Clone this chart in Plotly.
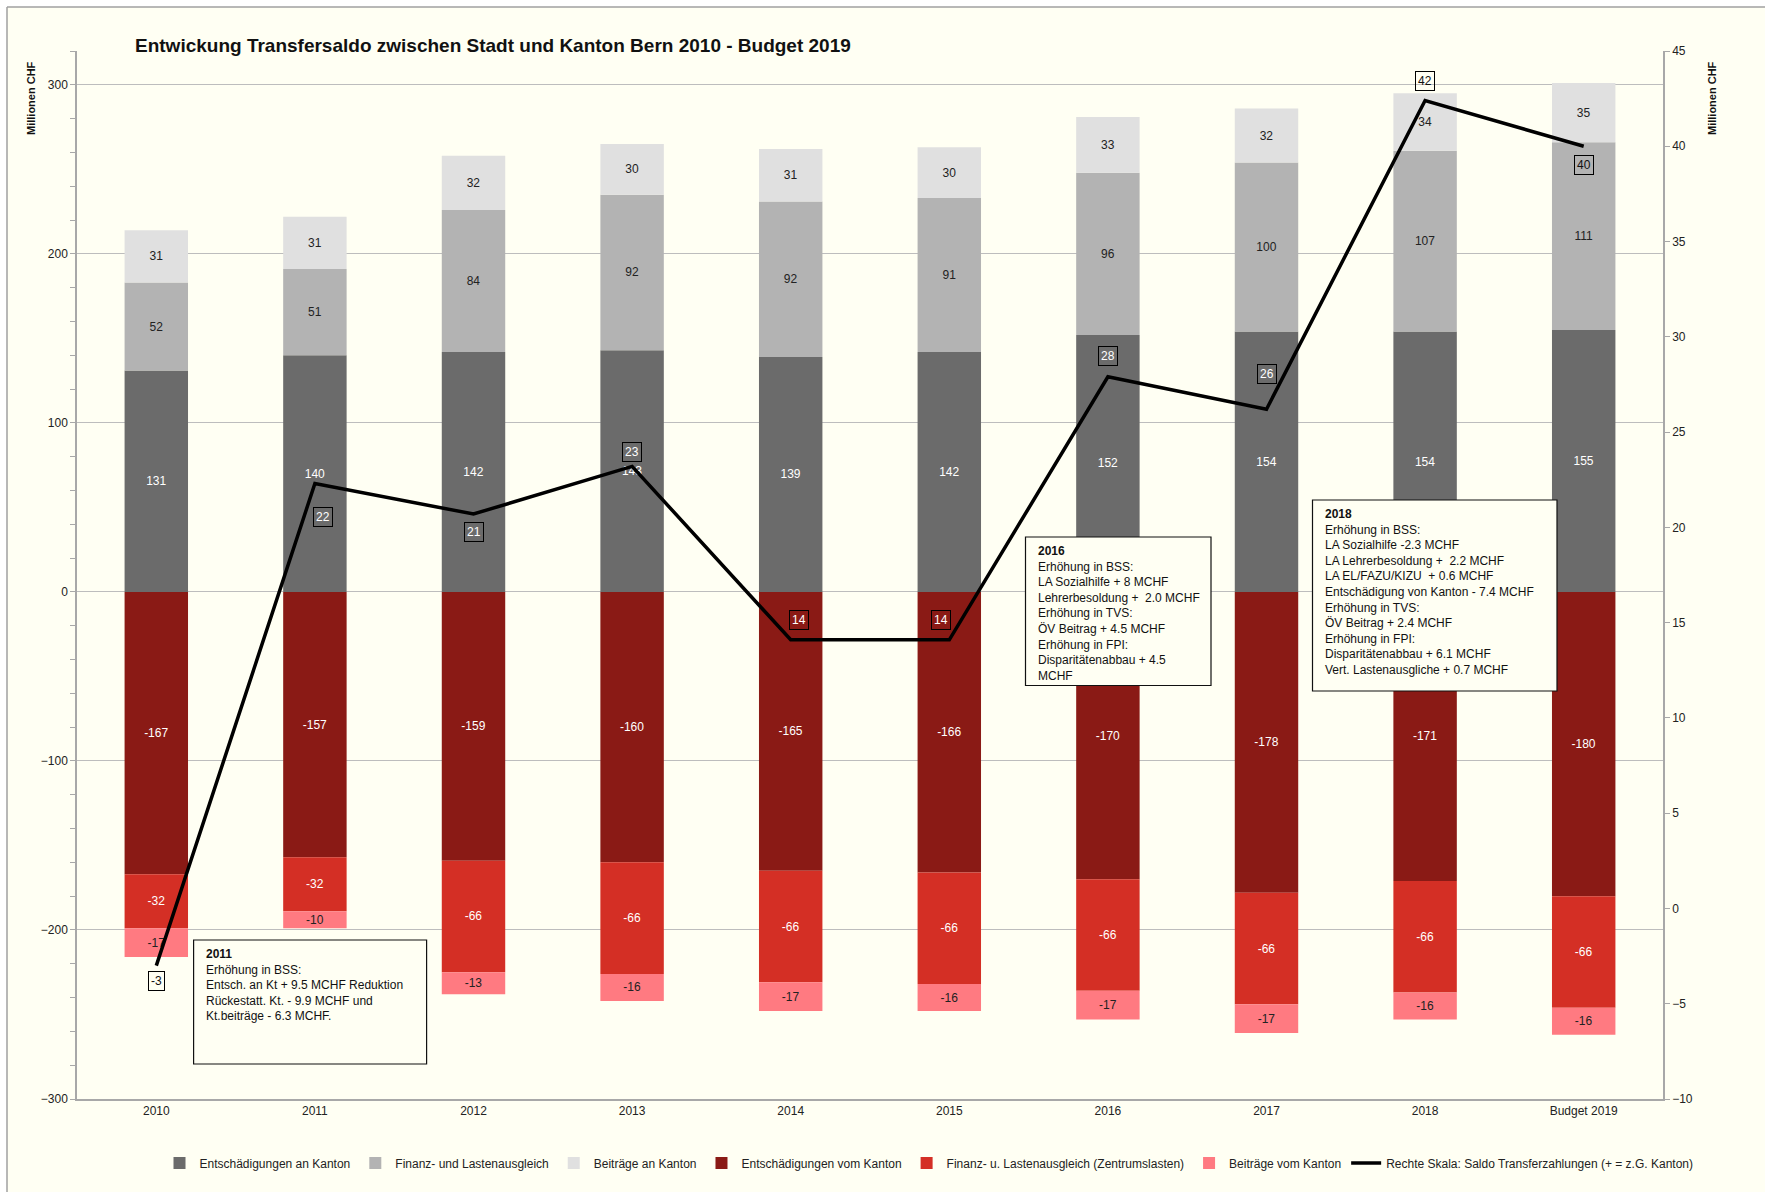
import plotly.graph_objects as go

years = ["2010", "2011", "2012", "2013", "2014", "2015", "2016", "2017", "2018", "Budget 2019"]

ent_an_kanton = [131, 140, 142, 143, 139, 142, 152, 154, 154, 155]
fla_an = [52, 51, 84, 92, 92, 91, 96, 100, 107, 111]
beitr_an = [31, 31, 32, 30, 31, 30, 33, 32, 34, 35]
ent_vom_kanton = [-167, -157, -159, -160, -165, -166, -170, -178, -171, -180]
fla_vom = [-32, -32, -66, -66, -66, -66, -66, -66, -66, -66]
beitr_vom = [-17, -10, -13, -16, -17, -16, -17, -17, -16, -16]
saldo = [-3.0, 22.3, 20.7, 23.2, 14.1, 14.1, 27.9, 26.2, 42.4, 40.0]

series_names = [
    "Entschädigungen an Kanton",
    "Finanz- und Lastenausgleich",
    "Beiträge an Kanton",
    "Entschädigungen vom Kanton",
    "Finanz- u. Lastenausgleich (Zentrumslasten)",
    "Beiträge vom Kanton",
]
line_name = "Rechte Skala: Saldo Transferzahlungen (+ = z.G. Kanton)"
title_text = "Entwickung Transfersaldo zwischen Stadt und Kanton Bern 2010 - Budget 2019"
axis_title = "Millionen CHF"

note_2011 = ("<b>2011</b><br>Erhöhung in BSS:<br>Entsch. an Kt + 9.5 MCHF Reduktion<br>"
             "Rückestatt. Kt. - 9.9 MCHF und<br>Kt.beiträge - 6.3 MCHF.")
note_2016 = ("<b>2016</b><br>Erhöhung in BSS:<br>LA Sozialhilfe + 8 MCHF<br>Lehrerbesoldung +  2.0 MCHF<br>"
             "Erhöhung in TVS:<br>ÖV Beitrag + 4.5 MCHF<br>Erhöhung in FPI:<br>Disparitätenabbau + 4.5<br>MCHF")
note_2018 = ("<b>2018</b><br>Erhöhung in BSS:<br>LA Sozialhilfe -2.3 MCHF<br>LA Lehrerbesoldung +  2.2 MCHF<br>"
             "LA EL/FAZU/KIZU  + 0.6 MCHF<br>Entschädigung von Kanton - 7.4 MCHF<br>Erhöhung in TVS:<br>"
             "ÖV Beitrag + 2.4 MCHF<br>Erhöhung in FPI:<br>Disparitätenabbau + 6.1 MCHF<br>Vert. Lastenausgliche + 0.7 MCHF")

# ---- styles ----
W, H = 1765, 1192
L, R, T, B = 77, 1663, 51, 1099
FONT = "Liberation Sans, Arial, sans-serif"
CREAM = "#FFFFF3"
bar_colors = ["#6b6b6b", "#b3b3b3", "#e0e0e0", "#8a1a15", "#d42f25", "#ff7a81"]
text_colors = ["white", "#222222", "#222222", "white", "white", "#222222"]
label_shift_y = [-15, -33, -18, 14, 20, 20, 21, 35, 20, -19]
label_shift_x = [0, 8, 0, 0, 8, -8, 0, 0, 0, 0]
label_font_color = ["#111", "white", "white", "white", "white", "white", "white", "white", "#111", "#111"]


def px(x):
    return (x - L) / (R - L)


def py(y):
    return (B - y) / (B - T)


fig = go.Figure()
for name, vals, col, tcol in zip(series_names,
                                 [ent_an_kanton, fla_an, beitr_an, ent_vom_kanton, fla_vom, beitr_vom],
                                 bar_colors, text_colors):
    fig.add_trace(go.Bar(
        x=years, y=vals, name=name,
        marker=dict(color=col, line=dict(width=0)),
        text=[str(v) for v in vals], textposition="inside", insidetextanchor="middle",
        textangle=0, textfont=dict(color=tcol, size=12, family=FONT),
    ))

fig.add_trace(go.Scatter(
    x=years, y=saldo, name=line_name, mode="lines",
    line=dict(color="black", width=3.5), yaxis="y2",
))

annotations = []
for i, v in enumerate(saldo):
    annotations.append(dict(
        x=i, y=v, xref="x", yref="y2", text=str(int(round(v))), showarrow=False,
        xshift=label_shift_x[i], yshift=label_shift_y[i],
        font=dict(size=12, color=label_font_color[i], family=FONT),
        bordercolor="black", borderwidth=1, borderpad=2,
    ))

shapes = [
    dict(type="rect", xref="paper", yref="paper", x0=px(0), x1=px(W), y0=py(0), y1=py(7),
         fillcolor="white", line=dict(width=0)),
    dict(type="rect", xref="paper", yref="paper", x0=px(0), x1=px(7), y0=py(0), y1=py(H),
         fillcolor="white", line=dict(width=0)),
    dict(type="line", xref="paper", yref="paper", x0=px(7), x1=px(W), y0=py(7), y1=py(7),
         line=dict(color="#a0a0a0", width=1.5)),
    dict(type="line", xref="paper", yref="paper", x0=px(7), x1=px(7), y0=py(7), y1=py(H),
         line=dict(color="#a0a0a0", width=1.5)),
]

for note, (x0, y0, x1, y1) in [
    (note_2011, (193.6, 940, 426.6, 1064)),
    (note_2016, (1025.5, 537, 1211, 685.5)),
    (note_2018, (1312.5, 500, 1557, 691)),
]:
    shapes.append(dict(type="rect", xref="paper", yref="paper", layer="above",
                       x0=px(x0), x1=px(x1), y0=py(y0), y1=py(y1),
                       fillcolor=CREAM, line=dict(color="#111", width=1.2)))
    annotations.append(dict(
        x=px(x0 + 10), y=py(y0 + 5), xref="paper", yref="paper", xanchor="left", yanchor="top",
        text=note, showarrow=False, align="left",
        font=dict(size=12, color="#111", family=FONT),
    ))

annotations.append(dict(
    x=px(133), y=py(46), xref="paper", yref="paper", xanchor="left", yanchor="middle",
    text="<b>" + title_text + "</b>", showarrow=False,
    font=dict(size=19, color="#111", family=FONT),
))
for xx in (31, 1712):
    annotations.append(dict(
        x=px(xx), y=py(98), xref="paper", yref="paper", xanchor="center", yanchor="middle",
        text="<b>" + axis_title + "</b>", textangle=-90, showarrow=False,
        font=dict(size=11, color="#111", family=FONT),
    ))

fig.update_layout(
    width=W, height=H,
    margin=dict(l=L, r=W - R, t=T, b=H - B),
    paper_bgcolor=CREAM, plot_bgcolor=CREAM,
    font=dict(family=FONT, size=12, color="#222"),
    barmode="relative", bargap=0.6,
    uniformtext=dict(minsize=12, mode="show"),
    xaxis=dict(type="category", range=[-0.5, 9.5], showgrid=False, showline=True,
               linecolor="#a8a8a8", linewidth=1.5,
               ticks="", tickfont=dict(size=12, color="#222"), zeroline=False),
    yaxis=dict(range=[-300, 320], tickvals=[-300, -200, -100, 0, 100, 200, 300],
               showgrid=True, gridcolor="#bdbdbd", gridwidth=1.3,
               zeroline=True, zerolinecolor="#bdbdbd", zerolinewidth=1.3,
               showline=True, linecolor="#a8a8a8", linewidth=1.5,
               ticks="outside", ticklen=5, tickcolor="#a8a8a8",
               minor=dict(dtick=20, ticks="outside", ticklen=5, tickcolor="#a8a8a8", showgrid=False),
               tickfont=dict(size=12, color="#222")),
    yaxis2=dict(range=[-10, 45], dtick=5, overlaying="y", side="right", showgrid=False,
                zeroline=False, showline=True, linecolor="#a8a8a8", linewidth=1.5,
                ticks="outside", ticklen=5, tickcolor="#a8a8a8",
                tickfont=dict(size=12, color="#222")),
    legend=dict(orientation="h", x=px(929), xanchor="center", y=py(1163), yanchor="middle",
                font=dict(size=12, color="#222"), bgcolor="rgba(0,0,0,0)", traceorder="normal"),
    showlegend=True,
    annotations=annotations,
    shapes=shapes,
)

fig.write_html("out.html", config={"displayModeBar": False},
               post_script="document.body.style.margin='0px';document.body.style.overflow='hidden';")
